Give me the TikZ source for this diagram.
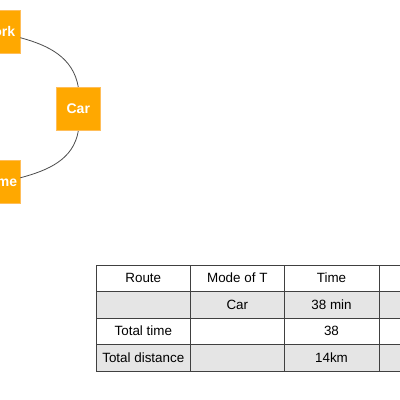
\documentclass[tikz,border=0pt]{standalone}
\usepackage{fontspec}
\setmainfont{Liberation Sans}
\definecolor{boxorange}{RGB}{255,168,0}
\definecolor{boxedge}{RGB}{255,190,90}
\begin{document}
\begin{tikzpicture}[x=1pt,y=1pt,
  obox/.style={fill=boxorange, draw=boxedge, line width=0.6pt, minimum width=44.5pt, minimum height=43.5pt, inner sep=0pt, text=white, font=\fontsize{14}{16}\selectfont\bfseries},
  link/.style={draw=black!70, line width=0.8pt},
  cell/.style={draw=black!75, line width=0.9pt, inner sep=0pt, font=\fontsize{13.4}{15}\selectfont, text=black},
  gcell/.style={cell, fill=black!10},
  ctext/.style={font=\fontsize{13.4}{15}\selectfont}]
\useasboundingbox (0,0) rectangle (400,-400);
\clip (0,0) rectangle (400,-400);
\fill[white] (0,0) rectangle (400,-400);
% boxes
\node[obox] (work) at (-2.25,-31.7) {Work};
\node[obox] (car) at (78.3,-109) {Car};
\node[obox] (home) at (-2.25,-181.8) {Home};
\path (work.east) ++(0,-6) coordinate (w1);
\draw[link] (w1) to[out=-15,in=100] (car.north);
\path (home.east) ++(0,4) coordinate (h1);
\draw[link] (car.south) to[out=-100,in=15] (h1);
% table
\foreach \r/\y/\h/\st in {1/-278/26/cell, 2/-304.5/27/gcell, 3/-331/26/cell, 4/-357.5/27/gcell}{
  \foreach \c/\x/\w in {1/143.3/94.7, 2/237.3/93.3, 3/331.5/95, 4/426.5/95}{
    \node[\st, minimum width=\w pt, minimum height=\h pt] (t\r\c) at (\x,\y) {};
  }
}
\node[ctext] (l11) at (t11) {Route};
\node[ctext] (l12) at (t12) {Mode of T};
\node[ctext] (l13) at (t13) {Time};
\node[ctext] (l22) at (t22) {Car};
\node[ctext] (l23) at (t23) {38 min};
\node[ctext] (l31) at (t31) {Total time};
\node[ctext] (l33) at (t33) {38};
\node[ctext] (l41) at (t41) {Total distance};
\node[ctext] (l43) at (t43) {14km};
\end{tikzpicture}
\end{document}
